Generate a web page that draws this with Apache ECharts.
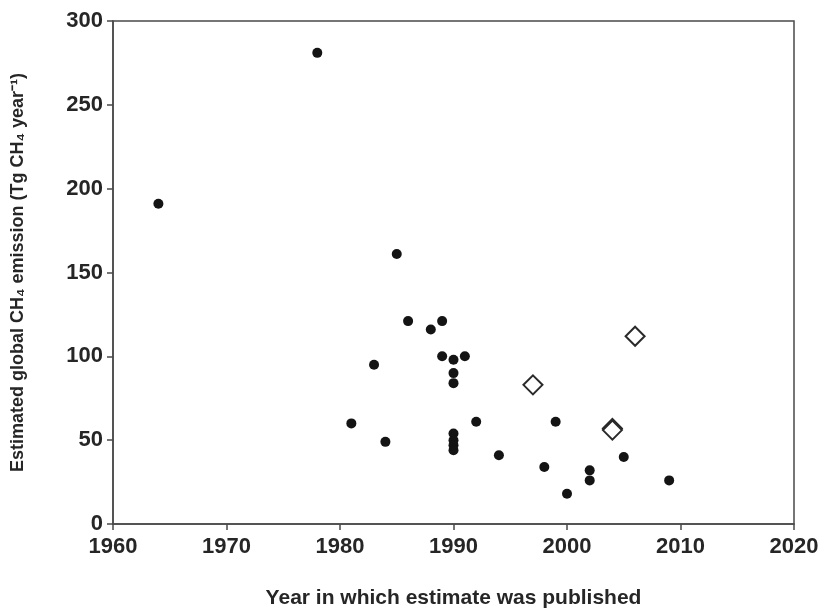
<!DOCTYPE html>
<html>
<head>
<meta charset="utf-8">
<script src="https://cdn.jsdelivr.net/npm/echarts@6/dist/echarts.min.js"></script>
<style>
html,body{margin:0;padding:0;background:#fff}
#chart{width:825px;height:614px}
</style>
</head>
<body>
<div id="chart"></div>
<script>
// published estimates (filled circles)
const estimateYears = [1964, 1978, 1981, 1983, 1984, 1985, 1986, 1988, 1989, 1989, 1990, 1990, 1990, 1990, 1990, 1990, 1990, 1991, 1992, 1994, 1998, 1999, 2000, 2002, 2002, 2005, 2009]
const estimateValues = [191, 281, 60, 95, 49, 161, 121, 116, 121, 100, 98, 90, 84, 54, 50, 47, 44, 100, 61, 41, 34, 61, 18, 32, 26, 40, 26]
// open diamonds
const diamondYears = [1997, 2004, 2004, 2006]
const diamondValues = [83, 57, 56, 112]
const xTicks = [1960, 2020, 10]
const yTicks = [0, 300, 50]

const pairs = (xs, ys) => xs.map((x, i) => [x, ys[i]])

const chart = echarts.init(document.getElementById('chart'))
const axisCol = '#4a4a4a'
const txt = {color: '#262626', fontFamily: 'Liberation Sans, Arial, sans-serif', fontSize: 22, fontWeight: 'bold'}

chart.setOption({
    backgroundColor: '#fff',
    animation: false,
    grid: {left: 113, right: 31, top: 21, bottom: 90, show: true, borderColor: axisCol, borderWidth: 1.5},
    xAxis: {
        type: 'value', min: xTicks[0], max: xTicks[1], interval: xTicks[2],
        name: 'Year in which estimate was published', nameLocation: 'middle', nameGap: 64,
        nameTextStyle: {...txt, fontSize: 21},
        axisLine: {lineStyle: {color: axisCol, width: 1.5}},
        axisTick: {inside: false, length: 6, lineStyle: {color: axisCol, width: 1.5}},
        axisLabel: {...txt, margin: 12, formatter: v => String(v)},
        splitLine: {show: false}
    },
    yAxis: {
        type: 'value', min: yTicks[0], max: yTicks[1], interval: yTicks[2],
        name: 'Estimated global CH\u2084 emission (Tg CH\u2084 year\u207B\u00B9)', nameLocation: 'middle', nameGap: 86,
        nameTextStyle: {...txt, fontSize: 18},
        axisLine: {lineStyle: {color: axisCol, width: 1.5}},
        axisTick: {inside: false, length: 6, lineStyle: {color: axisCol, width: 1.5}},
        axisLabel: {...txt, margin: 10},
        splitLine: {show: false}
    },
    series: [
        {
            type: 'scatter', symbol: 'circle', symbolSize: 10,
            itemStyle: {color: '#141414', opacity: 1},
            data: pairs(estimateYears, estimateValues)
        },
        {
            type: 'scatter', symbol: 'diamond', symbolSize: 19,
            itemStyle: {color: '#fff', borderColor: '#2a2a2a', borderWidth: 2, opacity: 1},
            data: pairs(diamondYears, diamondValues)
        }
    ]
})
</script>
</body>
</html>
